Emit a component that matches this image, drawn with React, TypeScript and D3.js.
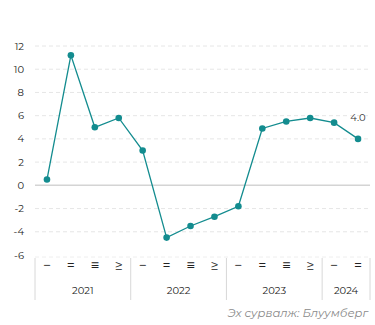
import React from "react";
import * as d3 from "d3";

const years = ["2021", "2022", "2023", "2024"];
const quarters = ["−", "=", "≡", "≥"];
const quartersPerYear = [4, 4, 4, 2];
const values = [0.5, 11.2, 5.0, 5.8, 3.0, -4.5, -3.5, -2.7, -1.8, 4.9, 5.5, 5.8, 5.4, 4.0];
const yTicks = [-6, -4, -2, 0, 2, 4, 6, 8, 10, 12];
const lastLabel = "4.0";
const sourceText = "Эх сурвалж: Блуумберг";

const W = 375;
const H = 325;
const left = 35;
const right = 370;
const top = 46;
const bottom = 255;
const color = "#138c8f";
const font = "Montserrat, 'Open Sans', sans-serif";

export default function App() {
  const idx = values.map((_, i) => i);
  const x = d3.scaleBand<number>().domain(idx).range([left, right]);
  const y = d3.scaleLinear().domain([-6, 12]).range([bottom, top]);
  const cx = (i: number) => (x(i) as number) + x.bandwidth() / 2;
  const line = d3
    .line<number>()
    .x((_, i) => cx(i))
    .y((d) => y(d));

  const cats: { q: string; year: number }[] = [];
  quartersPerYear.forEach((n, yi) => {
    for (let k = 0; k < n; k++) cats.push({ q: quarters[k], year: yi });
  });

  const boundaries: number[] = [left];
  let acc = 0;
  quartersPerYear.forEach((n) => {
    acc += n;
    boundaries.push(acc < values.length ? (x(acc) as number) : right);
  });

  const last = values.length - 1;

  return (
    <svg
      width={W}
      height={H}
      style={{ position: "absolute", top: 0, left: 0, background: "#fff" }}
      fontFamily={font}
    >
      {yTicks.map((t) => (
        <g key={t}>
          {t !== 0 && t !== -6 && (
            <line
              x1={left}
              x2={right}
              y1={y(t)}
              y2={y(t)}
              stroke="#e6e6e6"
              strokeDasharray="4 3"
              strokeWidth={1}
            />
          )}
          <text x={24} y={y(t)} dy="0.35em" textAnchor="end" fontSize={10} fill="#222">
            {t}
          </text>
        </g>
      ))}
      <line x1={left} x2={right} y1={y(0)} y2={y(0)} stroke="#d4d4d4" strokeWidth={1.5} />
      <line
        x1={left}
        x2={right}
        y1={bottom + 2}
        y2={bottom + 2}
        stroke="#eeeeee"
        strokeDasharray="4 3"
      />

      {boundaries.map((b, i) => (
        <line key={i} x1={b} x2={b} y1={bottom + 3} y2={bottom + 45} stroke="#d8d8d8" strokeWidth={1} />
      ))}
      {cats.map((c, i) => (
        <text key={i} x={cx(i)} y={bottom + 10} dy="0.35em" textAnchor="middle" fontSize={14} fill="#222">
          {c.q}
        </text>
      ))}
      {years.map((yr, yi) => (
        <text
          key={yr}
          x={(boundaries[yi] + boundaries[yi + 1]) / 2}
          y={bottom + 35}
          dy="0.35em"
          textAnchor="middle"
          fontSize={10}
          fill="#222"
        >
          {yr}
        </text>
      ))}

      <path d={line(values) || ""} fill="none" stroke={color} strokeWidth={1.3} />
      {values.map((v, i) => (
        <circle key={i} cx={cx(i)} cy={y(v)} r={3.3} fill={color} />
      ))}
      <text x={cx(last)} y={y(values[last]) - 18} textAnchor="middle" fontSize={10} fill="#333">
        {lastLabel}
      </text>

      <text x={368} y={313} dy="0.35em" textAnchor="end" fontSize={11.5} fontStyle="italic" fill="#8a8a8a">
        {sourceText}
      </text>
    </svg>
  );
}
